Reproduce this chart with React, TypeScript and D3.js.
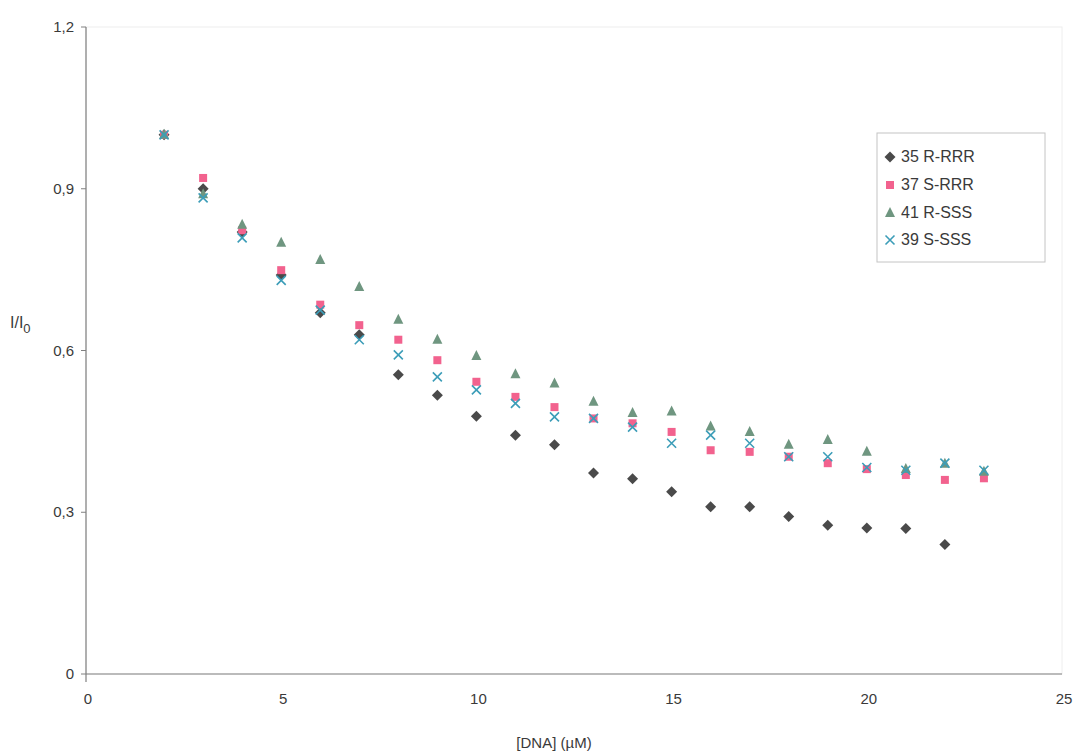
import React from "react";
import * as d3 from "d3";

const dnaConc = [2, 3, 4, 5, 6, 7, 8, 9, 10, 11, 12, 13, 14, 15, 16, 17, 18, 19, 20, 21, 22, 23];

const s35RRRR = [1.0, 0.9, 0.82, 0.74, 0.67, 0.629, 0.555, 0.517, 0.478, 0.443, 0.425, 0.373, 0.362, 0.338, 0.31, 0.31, 0.292, 0.276, 0.271, 0.27, 0.24, null];
const s37SRRR = [1.0, 0.92, 0.823, 0.749, 0.685, 0.647, 0.62, 0.582, 0.542, 0.514, 0.495, 0.474, 0.465, 0.449, 0.415, 0.412, 0.403, 0.391, 0.38, 0.369, 0.36, 0.363];
const s41RSSS = [1.0, 0.89, 0.833, 0.8, 0.768, 0.718, 0.657, 0.62, 0.59, 0.556, 0.539, 0.505, 0.484, 0.487, 0.459, 0.449, 0.425, 0.434, 0.412, 0.38, 0.39, 0.375];
const s39SSSS = [1.0, 0.883, 0.809, 0.73, 0.675, 0.62, 0.592, 0.551, 0.527, 0.502, 0.477, 0.474, 0.458, 0.428, 0.443, 0.428, 0.403, 0.403, 0.383, 0.378, 0.391, 0.378];

const seriesNames = ["35 R-RRR", "37 S-RRR", "41 R-SSS", "39 S-SSS"];
const xTicks = [0, 5, 10, 15, 20, 25];
const yTicks = [0, 0.3, 0.6, 0.9, 1.2];

const W = 1077;
const H = 756;
const left = 86, right = 1062, top = 27, bottom = 674;

const colors = ["#4a4a4a", "#f2628e", "#6f9680", "#3c9db8"];
const shapes = ["diamond", "square", "triangle", "x"];

function Marker({ shape, x, y, color }: { shape: string; x: number; y: number; color: string }) {
  if (shape === "diamond") {
    const s = 5.5;
    return <path d={`M${x},${y - s}L${x + s},${y}L${x},${y + s}L${x - s},${y}Z`} fill={color} />;
  }
  if (shape === "square") {
    const s = 4;
    return <rect x={x - s} y={y - s} width={2 * s} height={2 * s} fill={color} />;
  }
  if (shape === "triangle") {
    const s = 5;
    return <path d={`M${x},${y - s - 1}L${x + s},${y + s - 1}L${x - s},${y + s - 1}Z`} fill={color} />;
  }
  const s = 4.5;
  return (
    <path d={`M${x - s},${y - s}L${x + s},${y + s}M${x - s},${y + s}L${x + s},${y - s}`} stroke={color} strokeWidth={1.6} fill="none" />
  );
}

export default function App() {
  const xs = d3.scaleLinear().domain([0, 25]).range([left, right]);
  const ys = d3.scaleLinear().domain([0, 1.2]).range([bottom, top]);
  const allSeries = [s35RRRR, s37SRRR, s41RSSS, s39SSSS];
  const fmt = (v: number) => (v === 0 ? "0" : d3.format(".1f")(v).replace(".", ","));
  const font = "Liberation Sans, Arial, sans-serif";
  const textColor = "#3a3a3a";

  const legendX = 877, legendY = 133, legendW = 168, legendH = 129;
  const rowY = [157, 185, 213, 240];

  return (
    <svg width={W} height={H} style={{ position: "absolute", left: 0, top: 0, background: "#fff" }} fontFamily={font}>
      <rect x={0} y={0} width={W} height={H} fill="#fff" />
      {/* faint plot-area frame */}
      <rect x={left} y={top} width={right - left} height={bottom - top} fill="none" stroke="#eeeeee" />
      {/* axes */}
      <line x1={left} y1={top} x2={left} y2={bottom + 8} stroke="#808080" strokeWidth={1.2} />
      <line x1={left} y1={bottom} x2={right} y2={bottom} stroke="#808080" strokeWidth={1.2} />
      {yTicks.map((t) => (
        <g key={"y" + t}>
          <line x1={left - 5} x2={left} y1={ys(t)} y2={ys(t)} stroke="#808080" />
          <text x={left - 12} y={ys(t) + 5} textAnchor="end" fontSize={15} fill={textColor}>
            {fmt(t)}
          </text>
        </g>
      ))}
      {xTicks.map((t) => (
        <g key={"x" + t}>
          <text x={xs(t) + 2} y={bottom + 30} textAnchor="middle" fontSize={15} fill={textColor}>
            {t}
          </text>
        </g>
      ))}
      <text x={(left + right) / 2 - 20} y={748} textAnchor="middle" fontSize={15} fill={textColor}>
        [DNA] (µM)
      </text>
      <text x={10} y={328} fontSize={16} fill={textColor}>
        I/I<tspan dy={5} fontSize={13}>0</tspan>
      </text>
      {/* data */}
      {allSeries.map((vals, si) =>
        vals.map((v, i) =>
          v == null ? null : (
            <Marker key={si + "-" + i} shape={shapes[si]} x={xs(dnaConc[i])} y={ys(v)} color={colors[si]} />
          )
        )
      )}
      {/* legend */}
      <rect x={legendX} y={legendY} width={legendW} height={legendH} fill="#fff" stroke="#c4c4c4" strokeWidth={1} />
      {seriesNames.map((n, i) => (
        <g key={n}>
          <Marker shape={shapes[i]} x={legendX + 13} y={rowY[i]} color={colors[i]} />
          <text x={legendX + 24} y={rowY[i] + 5} fontSize={16} fill={textColor}>
            {n}
          </text>
        </g>
      ))}
    </svg>
  );
}
